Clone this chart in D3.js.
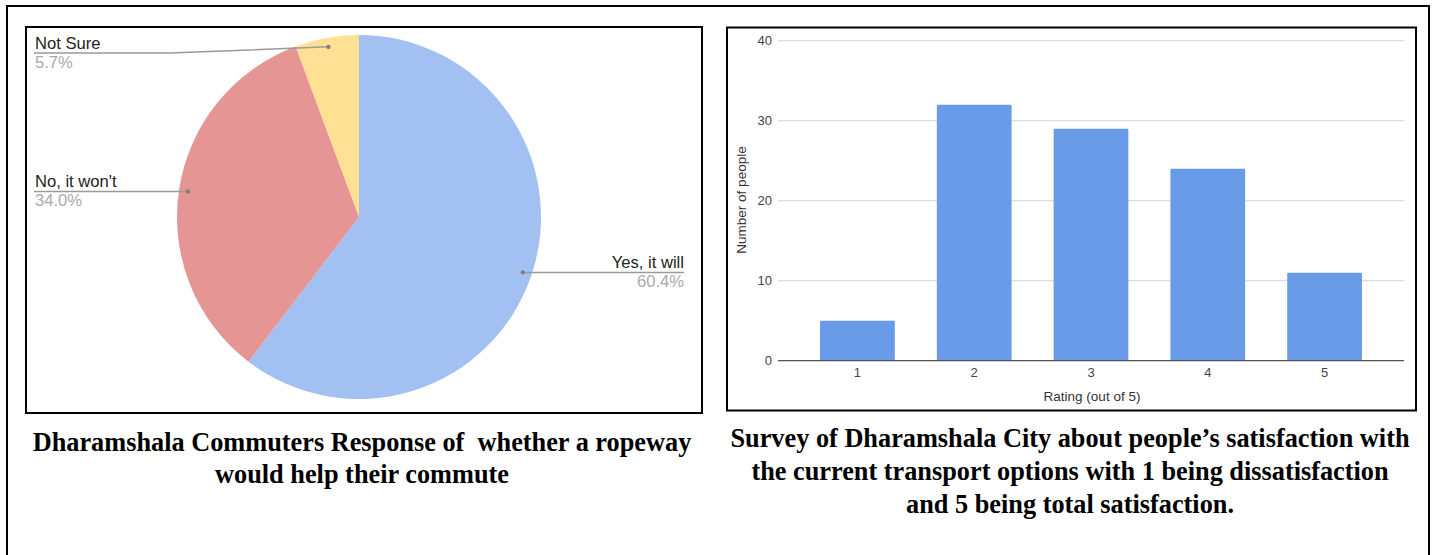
<!DOCTYPE html>
<html>
<head>
<meta charset="utf-8">
<script src="https://cdn.jsdelivr.net/npm/d3@7"></script>
<style>
  html, body { margin: 0; padding: 0; background: #fff; }
  svg { display: block; }
</style>
</head>
<body>
<svg id="chart" width="1434" height="555"></svg>
<script>
// Ropeway question responses (pie)
const pieLabels = ["Yes, it will", "No, it won't", "Not Sure"];
const pieCounts = [64, 36, 6];
const pieColors = ["#a3c0f2", "#e69595", "#ffe095"];

// Satisfaction ratings (bars)
const barCategories = ["1", "2", "3", "4", "5"];
const barValues = [5, 32, 29, 24, 11];
const yTicks = [0, 10, 20, 30, 40];

const captionLeft = [
  "Dharamshala Commuters Response of\u00a0 whether a ropeway",
  "would help their commute"
];
const captionRight = [
  "Survey of Dharamshala City about people\u2019s satisfaction with",
  "the current transport options with 1 being dissatisfaction",
  "and 5 being total satisfaction."
];

const svg = d3.select("#chart");
const sans = "'Liberation Sans', Arial, sans-serif";
const serif = "'Liberation Serif', 'Times New Roman', serif";

// outer frame and the two panel frames
svg.append("rect").attr("x", 7).attr("y", 6).attr("width", 1422).attr("height", 620)
  .attr("fill", "none").attr("stroke", "#000").attr("stroke-width", 2);
svg.append("rect").attr("x", 26).attr("y", 27).attr("width", 676).attr("height", 386)
  .attr("fill", "none").attr("stroke", "#000").attr("stroke-width", 2);
svg.append("rect").attr("x", 727).attr("y", 27.5).attr("width", 689).attr("height", 383)
  .attr("fill", "none").attr("stroke", "#000").attr("stroke-width", 2);

// ---------- pie ----------
const cx = 359, cy = 217, R = 182;
const total = d3.sum(pieCounts);
const pie = d3.pie().sort(null).value(d => d)(pieCounts);
const arc = d3.arc().innerRadius(0).outerRadius(R);
const anchorArc = d3.arc().innerRadius(R * 0.95).outerRadius(R * 0.95);

const pg = svg.append("g").attr("transform", `translate(${cx},${cy})`);
pg.selectAll("path").data(pie).join("path")
  .attr("d", arc)
  .attr("fill", (d, i) => pieColors[i]);

const leftX = 34, rightX = 684, kneeX = 170, minLineY = 53;
pie.forEach((d, i) => {
  const [ax, ay] = anchorArc.centroid(d);
  const px = cx + ax, py = cy + ay;
  const right = px > cx;
  const lineY = Math.max(py, minLineY);
  const endX = right ? rightX : leftX;
  const pts = right ? [[px, py], [endX, lineY]]
                    : [[px, py], [Math.min(kneeX, px), lineY], [endX, lineY]];
  svg.append("path")
    .attr("d", d3.line()(pts))
    .attr("fill", "none").attr("stroke", "#9a9a9a").attr("stroke-width", 1.5);
  svg.append("circle").attr("cx", px).attr("cy", py).attr("r", 2.2).attr("fill", "#808080");
  const anchor = right ? "end" : "start";
  svg.append("text").attr("x", endX + (right ? 0 : 1)).attr("y", lineY - 4.5)
    .attr("text-anchor", anchor).attr("font-family", sans).attr("font-size", 16.6)
    .attr("fill", "#222").text(pieLabels[i]);
  svg.append("text").attr("x", endX + (right ? 0 : 1)).attr("y", lineY + 15)
    .attr("text-anchor", anchor).attr("font-family", sans).attr("font-size", 16.6)
    .attr("fill", "#aaa").text((pieCounts[i] / total * 100).toFixed(1) + "%");
});

// ---------- bars ----------
const x = d3.scaleBand().domain(barCategories).range([778, 1404]).paddingInner(0.36).paddingOuter(0.36);
const y = d3.scaleLinear().domain([0, 40]).range([360.7, 40.7]);

const grid = svg.append("g");
grid.selectAll("line").data(yTicks.filter(t => t !== 0)).join("line")
  .attr("x1", 778).attr("x2", 1404)
  .attr("y1", d => y(d)).attr("y2", d => y(d))
  .attr("stroke", "#d6d6d6").attr("stroke-width", 1);

svg.append("g").selectAll("rect").data(barValues).join("rect")
  .attr("x", (d, i) => x(barCategories[i]))
  .attr("width", x.bandwidth())
  .attr("y", d => y(d))
  .attr("height", d => y(0) - y(d))
  .attr("rx", 1)
  .attr("fill", "#6a9be9");

svg.append("line").attr("x1", 778).attr("x2", 1404).attr("y1", y(0)).attr("y2", y(0))
  .attr("stroke", "#555").attr("stroke-width", 1.2);

const yAxis = d3.axisLeft(y).tickValues(yTicks).tickSize(0).tickPadding(0);
const ya = svg.append("g").attr("transform", "translate(772,0)").call(yAxis);
ya.select(".domain").remove();
ya.selectAll("text").attr("font-family", sans).attr("font-size", 13).attr("fill", "#444");

const xAxis = d3.axisBottom(x).tickSize(0).tickPadding(0);
const xa = svg.append("g").attr("transform", `translate(0,${y(0) + 7.5})`).call(xAxis);
xa.select(".domain").remove();
xa.selectAll("text").attr("font-family", sans).attr("font-size", 13).attr("fill", "#444");

svg.append("text").attr("x", 1092).attr("y", 401).attr("text-anchor", "middle")
  .attr("font-family", sans).attr("font-size", 13.5).attr("fill", "#333").text("Rating (out of 5)");
svg.append("text").attr("transform", "translate(746,200) rotate(-90)").attr("text-anchor", "middle")
  .attr("font-family", sans).attr("font-size", 13.5).attr("fill", "#333").text("Number of people");

// ---------- captions ----------
function caption(lines, cxp, y0, step) {
  svg.append("g").selectAll("text").data(lines).join("text")
    .attr("x", cxp).attr("y", (d, i) => y0 + i * step)
    .attr("text-anchor", "middle").attr("font-family", serif).attr("font-weight", "bold")
    .attr("font-size", 26.3).attr("fill", "#000")
    .text(d => d);
}
caption(captionLeft, 362, 451, 32);
caption(captionRight, 1070, 447, 33);
</script>
</body>
</html>
